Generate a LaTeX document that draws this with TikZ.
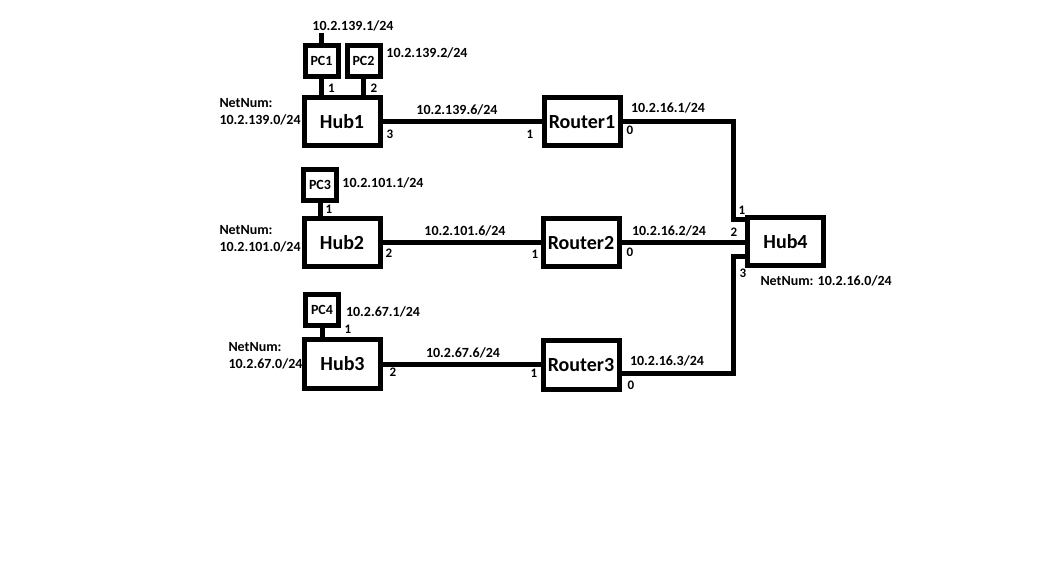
\documentclass[tikz,border=0pt]{standalone}
\usepackage{fontspec}
\setmainfont{Carlito}

\begin{document}
\begin{tikzpicture}
		[x=1pt,y=-1pt,line width=5pt,
		box/.style={draw,inner sep=0pt,minimum width=76pt,minimum height=48pt,font=\fontsize{20}{24}\selectfont\bfseries},
		pc/.style={draw,inner sep=0pt,minimum width=33pt,minimum height=31pt,font=\fontsize{14}{16}\selectfont\bfseries},
		txt/.style={inner sep=0pt,font=\fontsize{14}{17}\selectfont\bfseries},
		port/.style={inner sep=0pt,font=\fontsize{13}{15}\selectfont\bfseries}]
		\useasboundingbox[fill=white] (0,0) rectangle (1039,569);
		
		\node[box] (hub1) at (342,122) {Hub1};
		\node[box] (hub2) at (342,242.5) {Hub2};
		\node[box] (hub3) at (342.5,364) {Hub3};
		\node[box] (hub4) at (785.5,241.5) {Hub4};
		\node[box] (router1) at (582,122) {Router1};
		\node[box] (router2) at (581,243) {Router2};
		\node[box] (router3) at (581,365) {Router3};
		\node[pc] (pc1) at (321.5,61) {PC1};
		\node[pc] (pc2) at (363.5,61) {PC2};
		\node[pc] (pc3) at (320,185) {PC3};
		\node[pc] (pc4) at (322,310) {PC4};
		
		\coordinate (pc1top) at (321.5,33);
		\coordinate (r1turn) at (733.5,122);
		\coordinate (h4in1) at (733.5,220);
		\coordinate (h4in3) at (733.5,257);
		\coordinate (r3turn) at (733.5,373);
		
		\foreach \from/\to in 
		{pc1/hub1, pc2/hub1, pc3/hub2, pc4/hub3}
		\draw (\from.south) -- (\from.south |- \to.north);
		\draw (pc1.north) -- (pc1top);
		\foreach \from/\to in 
		{hub1/router1, hub2/router2, hub3/router3}
		\draw (\from.east) -- (\from.east -| \to.west);
		\draw (router1.east) -- (r1turn) -- (h4in1) -- (h4in1 -| hub4.west);
		\draw (router2.east) -- (router2.east -| hub4.west);
		\draw (r3turn -| router3.east) -- (r3turn) -- (h4in3) -- (h4in3 -| hub4.west);
		
		\node[txt] (pc1ip) at (353,26) {10.2.139.1/24};
		\node[txt] (pc2ip) at (427,53) {10.2.139.2/24};
		\node[txt] (pc3ip) at (383,183) {10.2.101.1/24};
		\node[txt] (pc4ip) at (383,312) {10.2.67.1/24};
		\node[txt] (l1ip) at (457,110) {10.2.139.6/24};
		\node[txt] (l2ip) at (465,231) {10.2.101.6/24};
		\node[txt] (l3ip) at (463,353) {10.2.67.6/24};
		\node[txt] (r1ip) at (668,108) {10.2.16.1/24};
		\node[txt] (r2ip) at (669,231) {10.2.16.2/24};
		\node[txt] (r3ip) at (667,361) {10.2.16.3/24};
		
		\node[txt,align=left,anchor=west] (net1) at (217,111.5) {NetNum:\\10.2.139.0/24};
		\node[txt,align=left,anchor=west] (net2) at (217,238.5) {NetNum:\\10.2.101.0/24};
		\node[txt,align=left,anchor=west] (net3) at (226,355.5) {NetNum:\\10.2.67.0/24};
		\node[txt,anchor=west] (net4) at (758,281) {NetNum: 10.2.16.0/24};
		
		\foreach \name/\x/\y/\num in 
		{pc1p/331.5/88/1, pc2p/374/88/2, h1p3/390/134/3, r1p1/530/134/1, r1p0/630/130/0,
		h4p1/742/210/1, h4p2/734/232/2, h4p3/743/273/3, r2p0/630/252/0, r3p0/631/385/0,
		pc3p/329/209/1, h2p2/389/253/2, r2p1/535/254/1,
		pc4p/348/329/1, h3p2/393/372/2, r3p1/534/373/1}
		\node[port] (\name) at (\x,\y) {\num};
		\end{tikzpicture}
\end{document}
